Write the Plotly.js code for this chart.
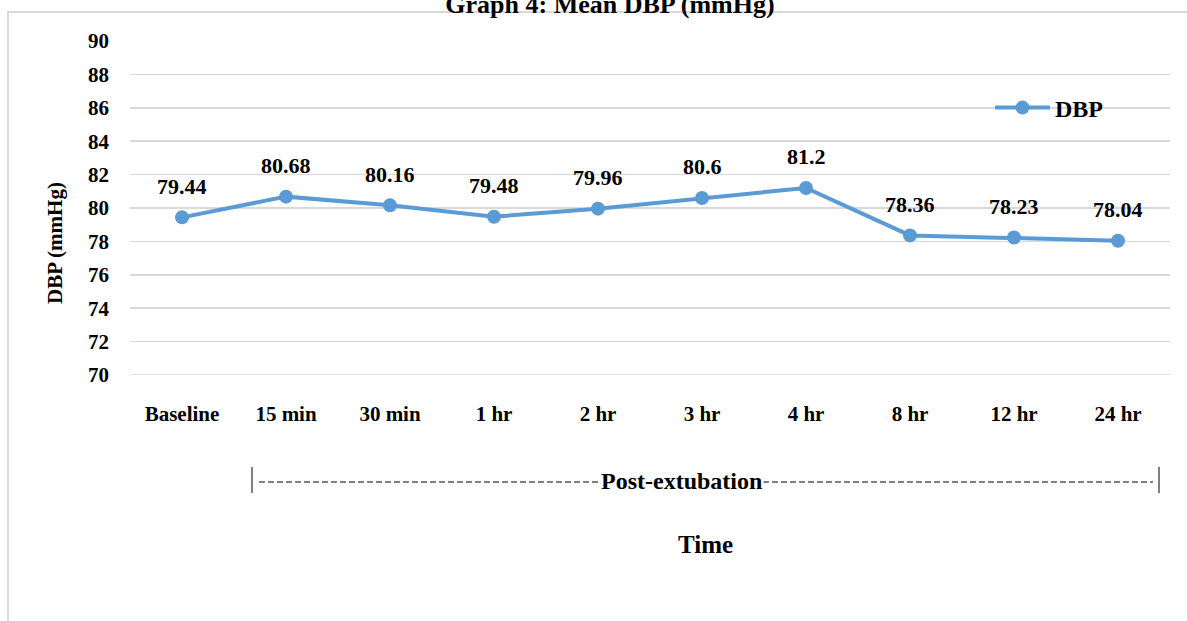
<!DOCTYPE html>
<html>
<head>
<meta charset="utf-8">
<script src="https://cdn.plot.ly/plotly-3.0.1.min.js"></script>
<style>html,body{margin:0;padding:0;background:#fff;}#chart{width:1187px;height:621px;}</style>
</head>
<body>
<div id="chart"></div>
<script>
const categories = ["Baseline", "15 min", "30 min", "1 hr", "2 hr", "3 hr", "4 hr", "8 hr", "12 hr", "24 hr"];
const dbpValues = [79.44, 80.68, 80.16, 79.48, 79.96, 80.6, 81.2, 78.36, 78.23, 78.04];
const dbpLabels = ["79.44", "80.68", "80.16", "79.48", "79.96", "80.6", "81.2", "78.36", "78.23", "78.04"];
const yTicks = [70, 72, 74, 76, 78, 80, 82, 84, 86, 88, 90];

const FONT = '"Liberation Serif", "Times New Roman", serif';
const BLUE = '#5B9BD5';
const GRID = '#d9d9d9';

// plot area in pixels: left 130, right 1170, top 41, bottom 375
const L = 130, R = 1170, T = 41, B = 375;
const px = x => (x - L) / (R - L);
const py = y => (B - y) / (B - T);

const trace = {
  type: 'scatter',
  mode: 'lines+markers',
  name: 'DBP',
  x: categories,
  y: dbpValues,
  line: {color: BLUE, width: 4},
  marker: {color: BLUE, size: 14},
  cliponaxis: false
};

const labelAnnotations = categories.map((c, i) => ({
  x: c, y: dbpValues[i], xref: 'x', yref: 'y',
  text: dbpLabels[i], showarrow: false, yshift: 31,
  font: {family: FONT, size: 22, color: '#000', weight: 'bold'}
}));

const layout = {
  width: 1187, height: 621,
  margin: {l: L, r: 1187 - R, t: T, b: 621 - B},
  paper_bgcolor: '#fff', plot_bgcolor: '#fff',
  title: {
    text: 'Graph 4: Mean DBP (mmHg)',
    font: {family: FONT, size: 26, color: '#000', weight: 'bold'},
    x: 610 / 1187, xanchor: 'center', xref: 'container',
    y: 1 - 13 / 621, yanchor: 'bottom', yref: 'container'
  },
  showlegend: true,
  legend: {
    x: px(990), y: py(108), xanchor: 'left', yanchor: 'middle',
    font: {family: FONT, size: 24, color: '#000', weight: 'bold'},
    bgcolor: 'rgba(0,0,0,0)', itemwidth: 55, borderwidth: 0
  },
  xaxis: {
    type: 'category',
    range: [-0.5, categories.length - 0.5],
    showgrid: false, zeroline: false, showline: false,
    ticks: '', ticklabelstandoff: 24,
    tickfont: {family: FONT, size: 21, color: '#000', weight: 'bold'},
    fixedrange: true
  },
  yaxis: {
    range: [70, 90],
    tickvals: yTicks, ticktext: yTicks.map(String),
    showgrid: true, gridcolor: GRID, gridwidth: 1.5,
    zeroline: false, showline: false, ticks: '',
    ticklabelstandoff: 20,
    tickfont: {family: FONT, size: 21, color: '#000', weight: 'bold'},
    fixedrange: true
  },
  shapes: [
    {type: 'rect', xref: 'paper', yref: 'paper', x0: px(8), x1: px(1200), y0: py(640), y1: py(12),
     line: {color: GRID, width: 2}, fillcolor: 'rgba(0,0,0,0)', layer: 'below'},
    {type: 'line', xref: 'paper', yref: 'y', x0: 0, x1: 1, y0: 70, y1: 70, line: {color: GRID, width: 1.5}, layer: 'below'},
    {type: 'line', xref: 'paper', yref: 'paper', x0: px(252), x1: px(252), y0: py(467), y1: py(493), line: {color: '#7f7f7f', width: 2}},
    {type: 'line', xref: 'paper', yref: 'paper', x0: px(1159), x1: px(1159), y0: py(467), y1: py(493), line: {color: '#7f7f7f', width: 2}},
    {type: 'line', xref: 'paper', yref: 'paper', x0: px(259), x1: px(1153), y0: py(482), y1: py(482), line: {color: '#7f7f7f', width: 2, dash: '6px,3px'}}
  ],
  annotations: labelAnnotations.concat([
    {x: px(681), y: py(481), xref: 'paper', yref: 'paper', text: 'Post-extubation', showarrow: false,
     bgcolor: '#fff', xanchor: 'center', yanchor: 'middle', borderpad: 1,
     font: {family: FONT, size: 24, color: '#000', weight: 'bold'}},
    {x: px(705), y: py(544), xref: 'paper', yref: 'paper', text: 'Time', showarrow: false,
     xanchor: 'center', yanchor: 'middle',
     font: {family: FONT, size: 25, color: '#000', weight: 'bold'}},
    {x: px(55), y: py(243), xref: 'paper', yref: 'paper', text: 'DBP (mmHg)', showarrow: false,
     textangle: -90, xanchor: 'center', yanchor: 'middle',
     font: {family: FONT, size: 21, color: '#000', weight: 'bold'}}
  ])
};

Plotly.newPlot('chart', [trace], layout, {displayModeBar: false, staticPlot: true});
</script>
</body>
</html>
